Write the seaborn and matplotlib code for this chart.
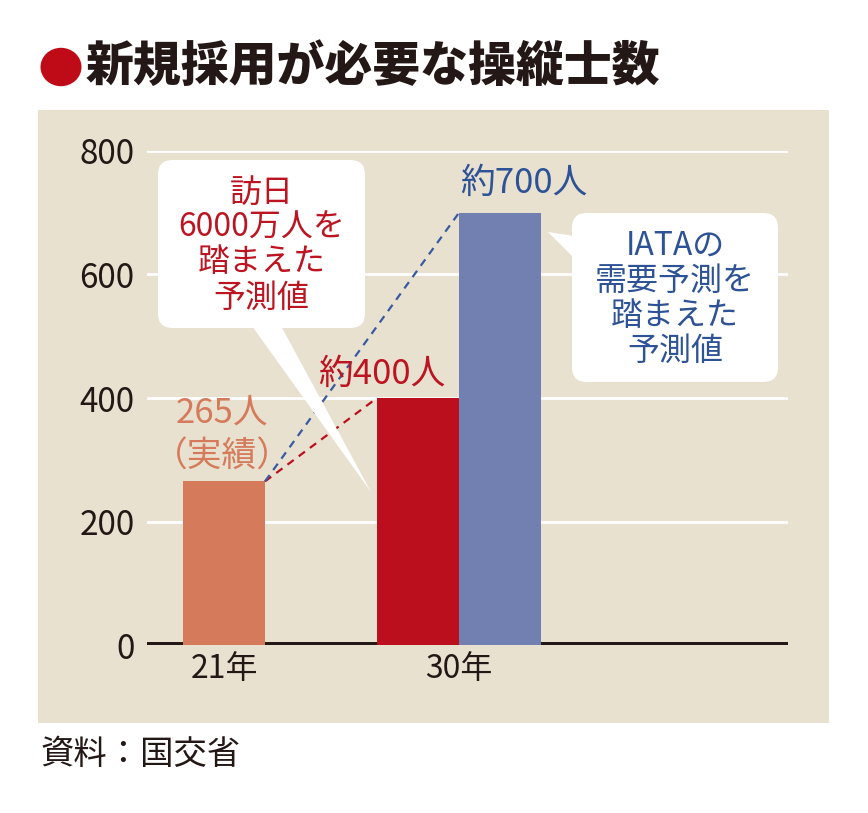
import numpy as np
import pandas as pd
import matplotlib
matplotlib.use("Agg")
import matplotlib.pyplot as plt
from matplotlib.patches import FancyBboxPatch, Polygon, Rectangle, Circle
import seaborn as sns

# ---- data ----
categories = ["21年", "30年"]
bar_years = ["21年", "30年", "30年"]
bar_series = ["実績", "訪日6000万人", "IATA"]
values = [265, 400, 700]
yticks = [0, 200, 400, 600, 800]
value_labels = ["265人", "約400人", "約700人"]

title = "新規採用が必要な操縦士数"
source = "資料：国交省"
left_note = "訪日\n6000万人を\n踏まえた\n予測値"
right_note = "IATAの\n需要予測を\n踏まえた\n予測値"

# ---- style ----
sns.set_theme(style="white")
plt.rcParams['font.family'] = ['Noto Sans CJK JP', 'DejaVu Sans']

W, H = 868, 813
BG = "#E8E1D0"
DARK = "#231815"
C_OR = "#D57B5B"
C_RED = "#BC0F1D"
C_BLUE = "#7280B1"
T_OR = "#D57B5B"
T_RED = "#BC1420"
T_BLUE = "#2D5296"

fig = plt.figure(figsize=(W / 100, H / 100), dpi=100)
fig.patch.set_facecolor("white")


def fx(px):
    return px / W


def fy(py):
    return 1 - py / H


# panel
fig.patches.append(Rectangle((fx(38), fy(723)), (829 - 38) / W, (723 - 110) / H,
                             transform=fig.transFigure, facecolor=BG,
                             edgecolor="none", zorder=-5))

# axes
ax_l, ax_r, ax_t, ax_b = 147, 788, 151, 645
ax = fig.add_axes([fx(ax_l), fy(ax_b), (ax_r - ax_l) / W, (ax_b - ax_t) / H])
ax.patch.set_visible(False)

bar_w = 82 / 235
offsets = {"実績": 0.0, "訪日6000万人": -bar_w / 2, "IATA": bar_w / 2}
df = pd.DataFrame({"year": bar_years, "series": bar_series, "value": values})
df["pos"] = df["year"].map({c: i for i, c in enumerate(categories)}) + df["series"].map(offsets)

palette = {"実績": C_OR, "訪日6000万人": C_RED, "IATA": C_BLUE}
sns.barplot(data=df, x="pos", y="value", hue="series", palette=palette,
            native_scale=True, dodge=False, width=1.0, linewidth=0,
            saturation=1, legend=False, ax=ax, zorder=3)

ax.set_ylim(0, 800)
ax.set_xlim((ax_l - 224) / 235, (ax_r - 224) / 235)
for s in ax.spines.values():
    s.set_visible(False)
ax.set_yticks(yticks)
ax.set_yticklabels([str(v) for v in yticks], fontsize=24, color=DARK)
ax.set_xticks(range(len(categories)))
ax.set_xticklabels(categories, fontsize=23, color=DARK)
ax.tick_params(axis="y", length=0, pad=9)
ax.tick_params(axis="x", length=0, pad=6)
ax.set_xlabel("")
ax.set_ylabel("")
ax.yaxis.grid(True, color="white", lw=2)
ax.set_axisbelow(True)
ax.axhline(0, color=DARK, lw=4.3, zorder=2.5)

# positions of bars
pos = dict(zip(df["series"], df["pos"]))
x21 = pos["実績"]
xr = pos["訪日6000万人"]
xb = pos["IATA"]

# dashed connectors
ax.plot([x21 + bar_w / 2, xr - bar_w / 2], [values[0], values[1]],
        color=C_RED, lw=1.6, ls=(0, (3.5, 2.8)), zorder=4)
ax.plot([x21 + bar_w / 2, xb - bar_w / 2], [values[0], values[2]],
        color="#3A5AA0", lw=1.6, ls=(0, (3.5, 2.8)), zorder=4)

# value labels
ax.annotate(value_labels[0], xy=(x21, values[0]), xytext=(-2, 68),
            textcoords="offset pixels", ha="center", va="center",
            fontsize=25, color=T_OR, zorder=6)
ax.annotate("（実績）", xy=(x21, values[0]), xytext=(-2, 24),
            textcoords="offset pixels", ha="center", va="center",
            fontsize=25, color=T_OR, zorder=6)
ax.annotate(value_labels[1], xy=(xr, values[1]), xytext=(-36, 24),
            textcoords="offset pixels", ha="center", va="center",
            fontsize=25, color=T_RED, zorder=6)
ax.annotate(value_labels[2], xy=(xb, values[2]), xytext=(24, 29),
            textcoords="offset pixels", ha="center", va="center",
            fontsize=25, color=T_BLUE, zorder=6)


# callout boxes
def callout(x0, y0, x1, y1, tail, text, color):
    box = FancyBboxPatch((fx(x0), fy(y1)), (x1 - x0) / W, (y1 - y0) / H,
                         boxstyle="round,pad=0,rounding_size=0.017",
                         transform=fig.transFigure, facecolor="white",
                         edgecolor="none", zorder=5, mutation_aspect=W / H)
    fig.patches.append(box)
    poly = Polygon([(fx(a), fy(b)) for a, b in tail], closed=True,
                   transform=fig.transFigure, facecolor="white",
                   edgecolor="none", zorder=5)
    fig.patches.append(poly)
    fig.text(fx((x0 + x1) / 2), fy((y0 + y1) / 2 + 1), text, ha="center",
             va="center", fontsize=23, color=color, linespacing=1.12,
             zorder=6)


callout(158, 160, 365, 328, [(252, 326), (281, 326), (371, 492)],
        left_note, T_RED)
callout(572, 213, 778, 382, [(574, 236), (574, 258), (548, 232)],
        right_note, T_BLUE)

# title
fig.patches.append(Circle((fx(61), fy(67)), 20.5 / W, transform=fig.transFigure,
                          facecolor="#BF0A18", edgecolor="none"))
fig.text(fx(86), fy(67), title, ha="left", va="center", fontsize=34.5,
         fontweight="heavy", color=DARK)

# source
fig.text(fx(41), fy(754), source, ha="left", va="center", fontsize=24,
         color=DARK)

fig.savefig("out.png", dpi=100)
